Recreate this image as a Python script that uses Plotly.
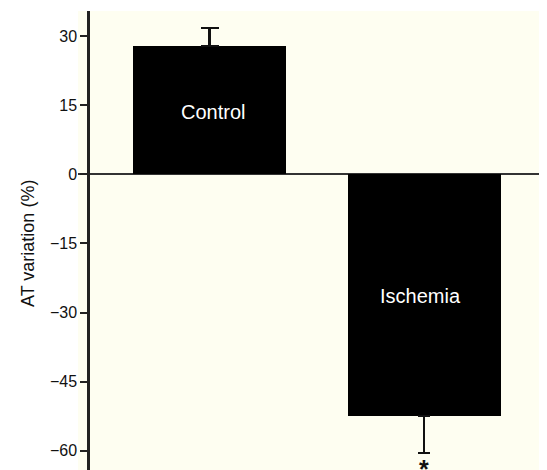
import plotly.graph_objects as go

# Data
categories = ["Control", "Ischemia"]
values = [27.9, -52.5]
err_plus = [3.9, 0.0]
err_minus = [0.0, 8.0]
tick_vals = [30, 15, 0, -15, -30, -45, -60]
y_title = "AT variation (%)"

fig = go.Figure()

cap_half = [9, 6]
for i, cat in enumerate(categories):
    fig.add_trace(go.Bar(
        x=[cat], y=[values[i]],
        width=0.713,
        marker=dict(color="#000000", line=dict(width=0)),
        error_y=dict(type="data", symmetric=False,
                     array=[err_plus[i]], arrayminus=[err_minus[i]],
                     color="#111111", thickness=2.2, width=cap_half[i]),
        showlegend=False,
        hoverinfo="skip",
    ))

font_family = "Liberation Sans, Arial, sans-serif"

# labels inside bars
fig.add_annotation(x=categories[0], y=13.6, xshift=3, text="Control", showarrow=False,
                   font=dict(family=font_family, size=20, color="#ffffff"))
fig.add_annotation(x=categories[1], y=-26.4, xshift=-4, text="Ischemia", showarrow=False,
                   font=dict(family=font_family, size=20, color="#ffffff"))
# significance marker (partly cut by the bottom edge, as in the reference)
fig.add_annotation(x=categories[1], y=-60.4, text="<b>*</b>", showarrow=False, yanchor="top",
                   font=dict(family=font_family, size=25, color="#111111"))
# y title
fig.add_annotation(xref="paper", yref="paper", x=-0.1066, y=0.4924, text=y_title,
                   textangle=-90, showarrow=False, xanchor="center", yanchor="middle",
                   font=dict(family=font_family, size=18, color="#111111"))

# page body has an 8px default margin, so the figure is sized/offset to compensate
fig.update_layout(
    width=539, height=462,
    margin=dict(l=70, r=0, t=3, b=0, pad=0),
    paper_bgcolor="#ffffff",
    plot_bgcolor="#fefef1",
    bargap=0,
    xaxis=dict(type="category", range=[-0.613, 1.573], showticklabels=False,
               showgrid=False, zeroline=False, showline=False, ticks=""),
    yaxis=dict(range=[-64.2, 35.5], anchor="free", position=10/469,
               tickvals=tick_vals, ticks="outside", ticklen=7, tickwidth=2,
               tickcolor="#222222", showline=True, linecolor="#222222", linewidth=2.5,
               showgrid=False, zeroline=True, zerolinecolor="#333333", zerolinewidth=2,
               tickfont=dict(family=font_family, size=16, color="#111111")),
)

fig.write_html("out.html")
